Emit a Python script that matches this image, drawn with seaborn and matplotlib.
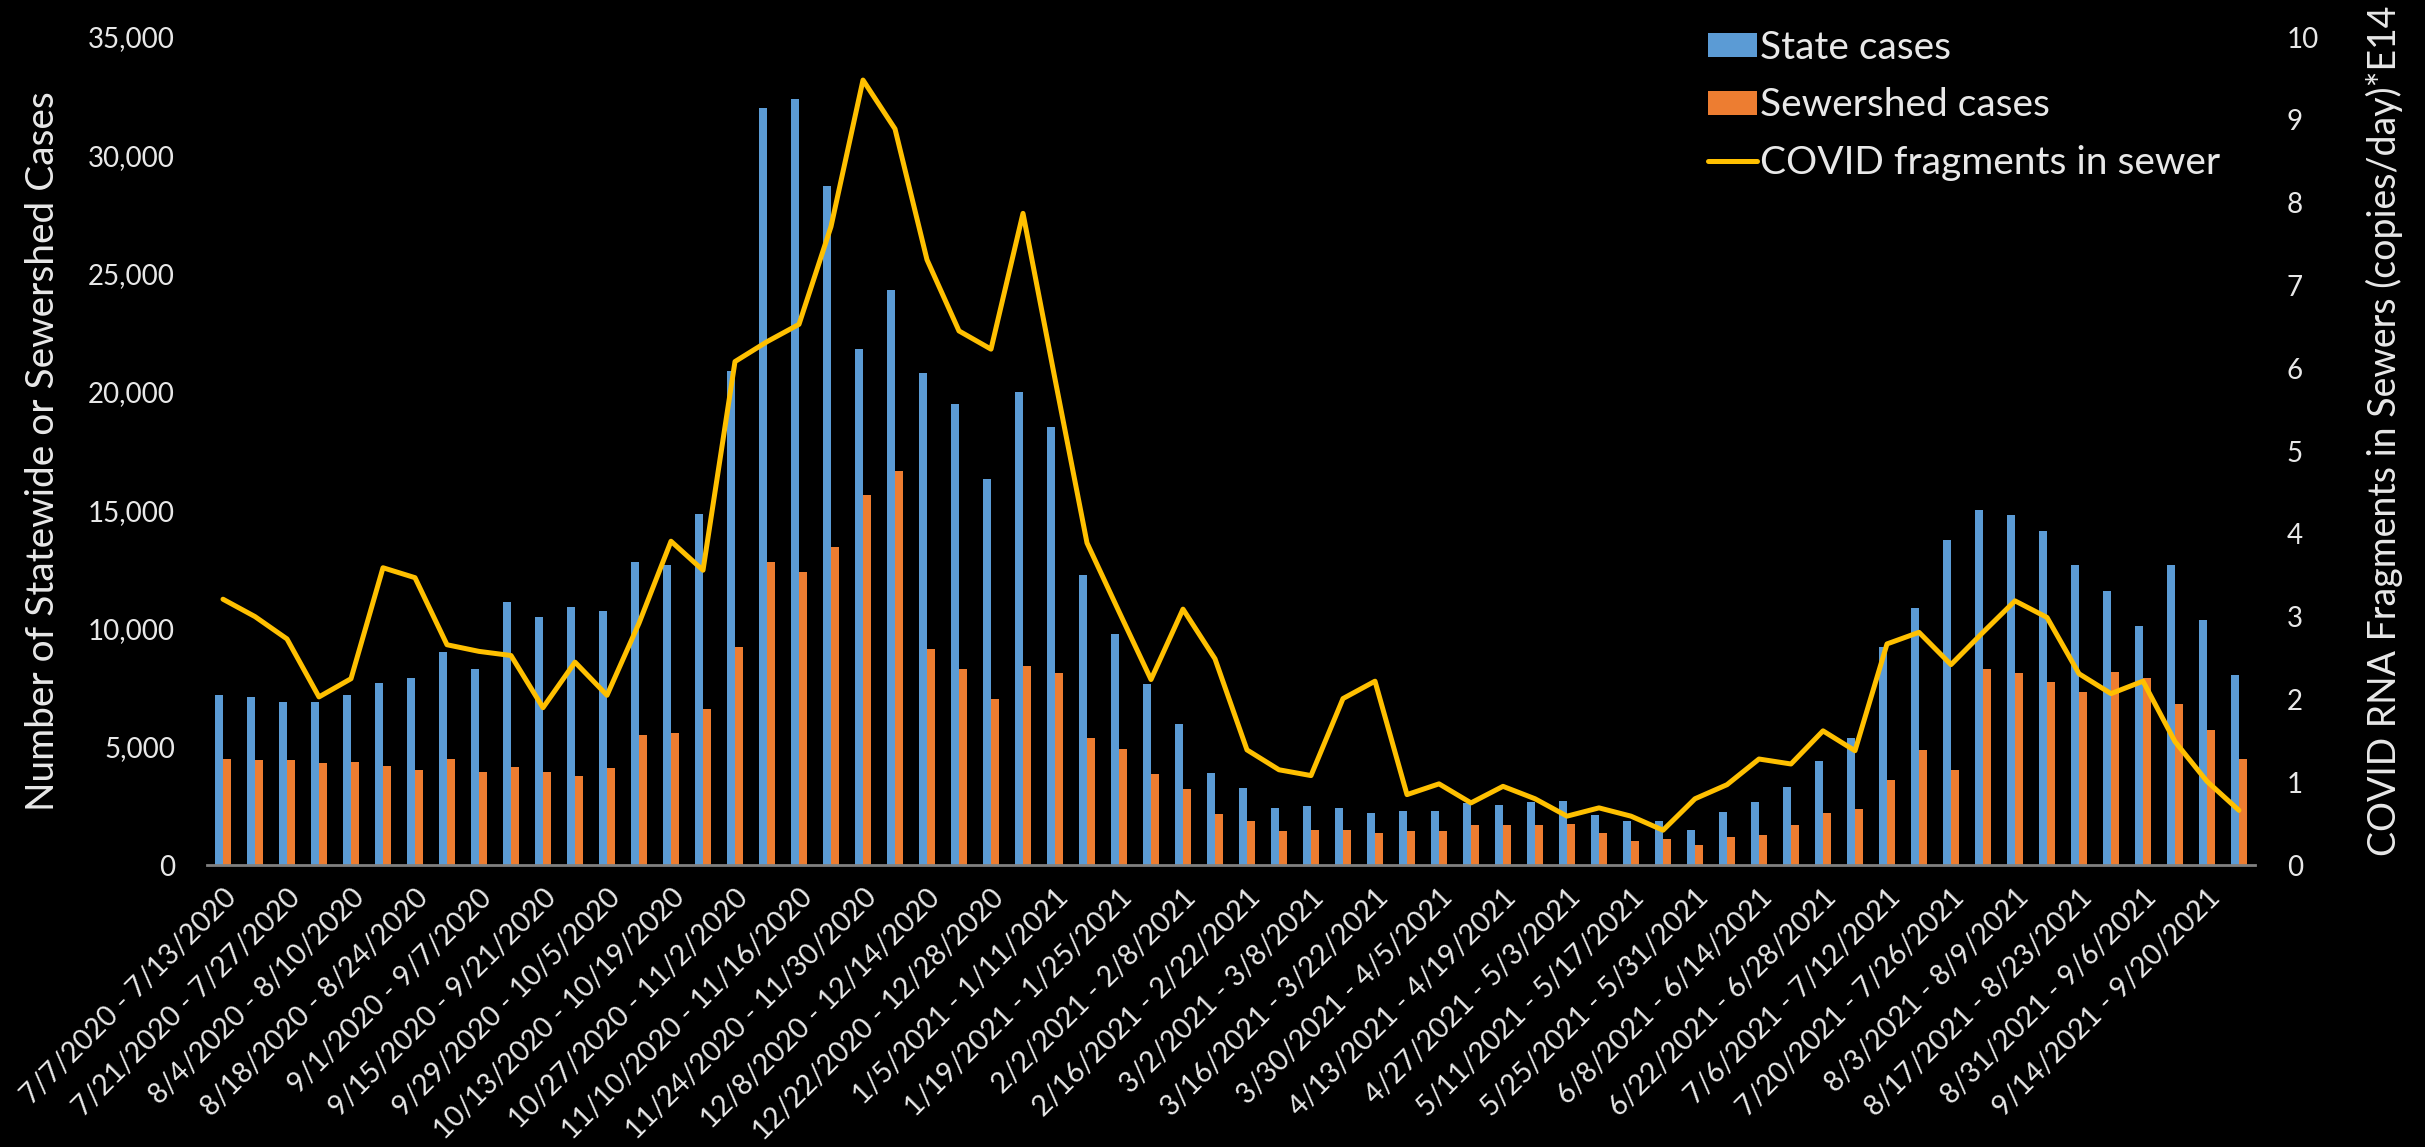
import numpy as np
import pandas as pd
import matplotlib
matplotlib.use("Agg")
import matplotlib.pyplot as plt
import seaborn as sns
from matplotlib.patches import Patch
from matplotlib.lines import Line2D

# ---------------- data ----------------
week_starts = pd.date_range("2020-07-07", periods=64, freq="7D")
week_ends = week_starts + pd.Timedelta(days=6)
weeks = [f"{s.month}/{s.day}/{s.year} - {e.month}/{e.day}/{e.year}"
         for s, e in zip(week_starts, week_ends)]

state_cases = [7200, 7100, 6900, 6900, 7200, 7700, 7900, 9000, 8300, 11100,
               10500, 10900, 10750, 12800, 12700, 14850, 20900, 32000, 32400, 28700,
               21800, 24300, 20800, 19500, 16300, 20000, 18500, 12250, 9750, 7650,
               5950, 3900, 3250, 2400, 2500, 2400, 2200, 2300, 2300, 2600,
               2550, 2650, 2700, 2100, 1850, 1850, 1500, 2250, 2650, 3300,
               4400, 5350, 9200, 10850, 13750, 15000, 14800, 14100, 12700, 11600,
               10100, 12700, 10350, 8050]

sewershed_cases = [4500, 4450, 4450, 4300, 4350, 4200, 4000, 4500, 3950, 4150,
                   3950, 3750, 4100, 5500, 5600, 6600, 9200, 12800, 12400, 13450,
                   15650, 16650, 9150, 8300, 7000, 8400, 8100, 5350, 4900, 3850,
                   3200, 2150, 1850, 1450, 1500, 1500, 1350, 1450, 1450, 1700,
                   1700, 1700, 1750, 1350, 1000, 1100, 850, 1200, 1250, 1700,
                   2200, 2350, 3600, 4850, 4000, 8300, 8100, 7750, 7300, 8150,
                   7900, 6800, 5700, 4500]

rna_fragments = [3.21, 3.00, 2.73, 2.03, 2.25, 3.59, 3.47, 2.66, 2.58, 2.53,
                 1.90, 2.45, 2.05, 2.92, 3.91, 3.56, 6.08, 6.32, 6.53, 7.71,
                 9.48, 8.89, 7.31, 6.45, 6.23, 7.87, 5.87, 3.89, 3.06, 2.24,
                 3.09, 2.49, 1.39, 1.15, 1.08, 2.01, 2.22, 0.85, 0.98, 0.75,
                 0.95, 0.80, 0.59, 0.69, 0.59, 0.42, 0.80, 0.97, 1.28, 1.22,
                 1.62, 1.38, 2.67, 2.81, 2.42, 2.81, 3.19, 2.99, 2.31, 2.07,
                 2.22, 1.49, 1.01, 0.66]

series_names = ["State cases", "Sewershed cases"]
line_name = "COVID fragments in sewer"
left_ticks = [0, 5000, 10000, 15000, 20000, 25000, 30000, 35000]
right_ticks = [0, 1, 2, 3, 4, 5, 6, 7, 8, 9, 10]

# ---------------- style ----------------
BLUE = "#5B9BD5"
ORANGE = "#ED7D31"
YELLOW = "#FFC000"
TEXT = "#E8E8E8"
AXIS = "#808080"

sns.set_theme(style="white")
plt.rcParams["font.family"] = ["Lato", "DejaVu Sans"]

df = pd.DataFrame({
    "week": weeks * 2,
    "cases": state_cases + sewershed_cases,
    "series": [series_names[0]] * len(weeks) + [series_names[1]] * len(weeks),
})

W, H = 2425, 1147
fig = plt.figure(figsize=(W / 100, H / 100), dpi=100, facecolor="black")
ax1 = fig.add_axes([207 / W, 1 - 865 / H, (2255 - 207) / W, (865 - 37) / H])
ax1.set_facecolor("black")

sns.barplot(data=df, x="week", y="cases", hue="series", order=weeks,
            hue_order=series_names, palette={series_names[0]: BLUE, series_names[1]: ORANGE},
            width=0.48, saturation=1, errorbar=None, legend=False, ax=ax1,
            linewidth=0, edgecolor="none")

ax2 = ax1.twinx()
sns.lineplot(x=np.arange(len(weeks)), y=rna_fragments, color=YELLOW, linewidth=3.6,
             ax=ax2, solid_joinstyle="round", solid_capstyle="round")

ax1.set_xlim(-0.5, len(weeks) - 0.5)
ax1.set_ylim(0, 35000)
ax2.set_ylim(0, 10)

for ax in (ax1, ax2):
    for s in ax.spines.values():
        s.set_visible(False)
ax1.spines["bottom"].set_visible(True)
ax1.spines["bottom"].set_color(AXIS)
ax1.spines["bottom"].set_linewidth(2.0)

ax1.set_yticks(left_ticks)
ax1.set_yticklabels([f"{v:,}" for v in left_ticks])
ax2.set_yticks(right_ticks)
ax2.set_yticklabels([str(v) for v in right_ticks])

ax1.set_xticks(range(0, len(weeks), 2))
ax1.set_xticklabels(weeks[::2], rotation=45, ha="right", rotation_mode="anchor")

ax1.tick_params(axis="y", length=0, pad=23, labelsize=20, labelcolor=TEXT)
ax2.tick_params(axis="y", length=0, pad=23, labelsize=20, labelcolor=TEXT)
ax1.tick_params(axis="x", length=0, pad=14, labelsize=20.5, labelcolor=TEXT)
ax2.tick_params(axis="x", length=0)

ax1.set_xlabel("")
ax2.set_xlabel("")
ax1.set_ylabel("Number of Statewide or Sewershed Cases", fontsize=28, color=TEXT)
ax2.set_ylabel("COVID RNA Fragments in Sewers (copies/day)*E14", fontsize=27, color=TEXT,
               rotation=90)
ax1.yaxis.label.set(va="center", ha="center")
ax2.yaxis.label.set(va="center", ha="center")
ax1.yaxis.set_label_coords(-0.080, 0.5)
ax2.yaxis.set_label_coords(1.063, 0.525)

handles = [Patch(facecolor=BLUE, edgecolor="none"),
           Patch(facecolor=ORANGE, edgecolor="none"),
           Line2D([0], [0], color=YELLOW, linewidth=3.6)]
leg = fig.legend(handles, series_names + [line_name], loc="upper left",
                 bbox_to_anchor=(1708 / W, 1 - 30 / H), bbox_transform=fig.transFigure,
                 frameon=False, fontsize=28, borderpad=0, borderaxespad=0,
                 handlelength=1.25, handleheight=0.58, handletextpad=0.1,
                 labelspacing=0.55)
for t in leg.get_texts():
    t.set_color(TEXT)

fig.savefig("out.png", dpi=100, facecolor="black")
